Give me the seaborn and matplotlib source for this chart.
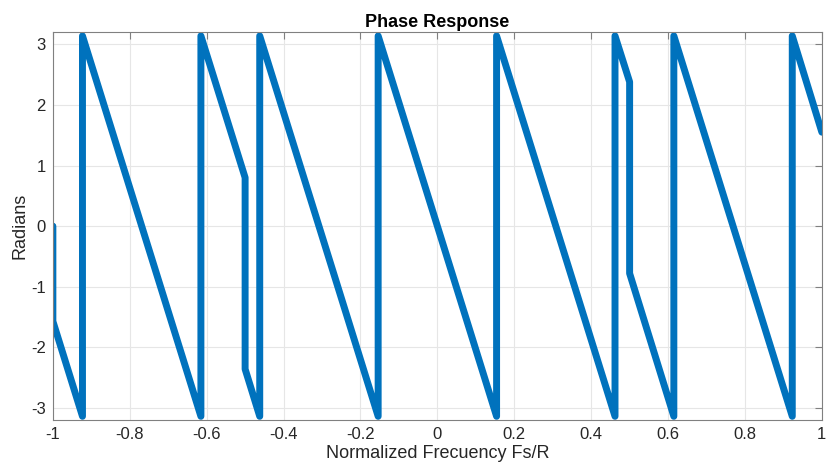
import numpy as np
import pandas as pd
import matplotlib
matplotlib.use("Agg")
import matplotlib.pyplot as plt
import seaborn as sns

# --- Data ---
freq = [-1.0, -1.0, -0.923, -0.923, -0.615, -0.615, -0.5, -0.5, -0.462, -0.462,
        -0.154, -0.154, 0.154, 0.154, 0.462, 0.462, 0.5, 0.5, 0.615, 0.615,
        0.923, 0.923, 1.0]
phase = [0.0, -1.57, -3.14, 3.14, -3.14, 3.14, 0.8, -2.36, -3.14, 3.14,
         -3.14, 3.14, -3.14, 3.14, -3.14, 3.14, 2.38, -0.78, -3.14, 3.14,
         -3.14, 3.14, 1.55]
x_ticks = [-1, -0.8, -0.6, -0.4, -0.2, 0, 0.2, 0.4, 0.6, 0.8, 1]
x_tick_labels = ['-1', '-0.8', '-0.6', '-0.4', '-0.2', '0', '0.2', '0.4', '0.6', '0.8', '1']
y_ticks = [-3, -2, -1, 0, 1, 2, 3]
y_tick_labels = ['-3', '-2', '-1', '0', '1', '2', '3']

df = pd.DataFrame({'freq': freq, 'phase': phase})

sns.set_theme(style="white")
plt.rcParams['font.family'] = ['Liberation Sans', 'DejaVu Sans']
plt.rcParams['axes.unicode_minus'] = False

fig = plt.figure(figsize=(8.26, 4.74), dpi=100)
ax = fig.add_axes([0.064, 0.114, 0.931, 0.818])

sns.lineplot(data=df, x='freq', y='phase', sort=False, estimator=None,
             color='#0072BD', linewidth=5.0, ax=ax)

ax.set_xlim(-1, 1)
ax.set_ylim(-3.2, 3.2)
ax.set_xticks(x_ticks)
ax.set_xticklabels(x_tick_labels)
ax.set_yticks(y_ticks)
ax.set_yticklabels(y_tick_labels)
ax.grid(True, color='#e6e6e6', linewidth=0.8)
ax.set_axisbelow(True)
for s in ax.spines.values():
    s.set_color('#808080')
    s.set_linewidth(0.8)
ax.tick_params(direction='in', length=5, width=0.8, color='#808080',
               top=True, right=True, labelsize=12, labelcolor='#262626', pad=5)

ax.set_title('Phase Response', fontsize=13, fontweight='bold', color='black', pad=4)
ax.set_xlabel('Normalized Frecuency Fs/R', fontsize=13, color='#262626', labelpad=2)
ax.set_ylabel('Radians', fontsize=13, color='#262626', labelpad=2)

fig.savefig('out.png', dpi=100)
